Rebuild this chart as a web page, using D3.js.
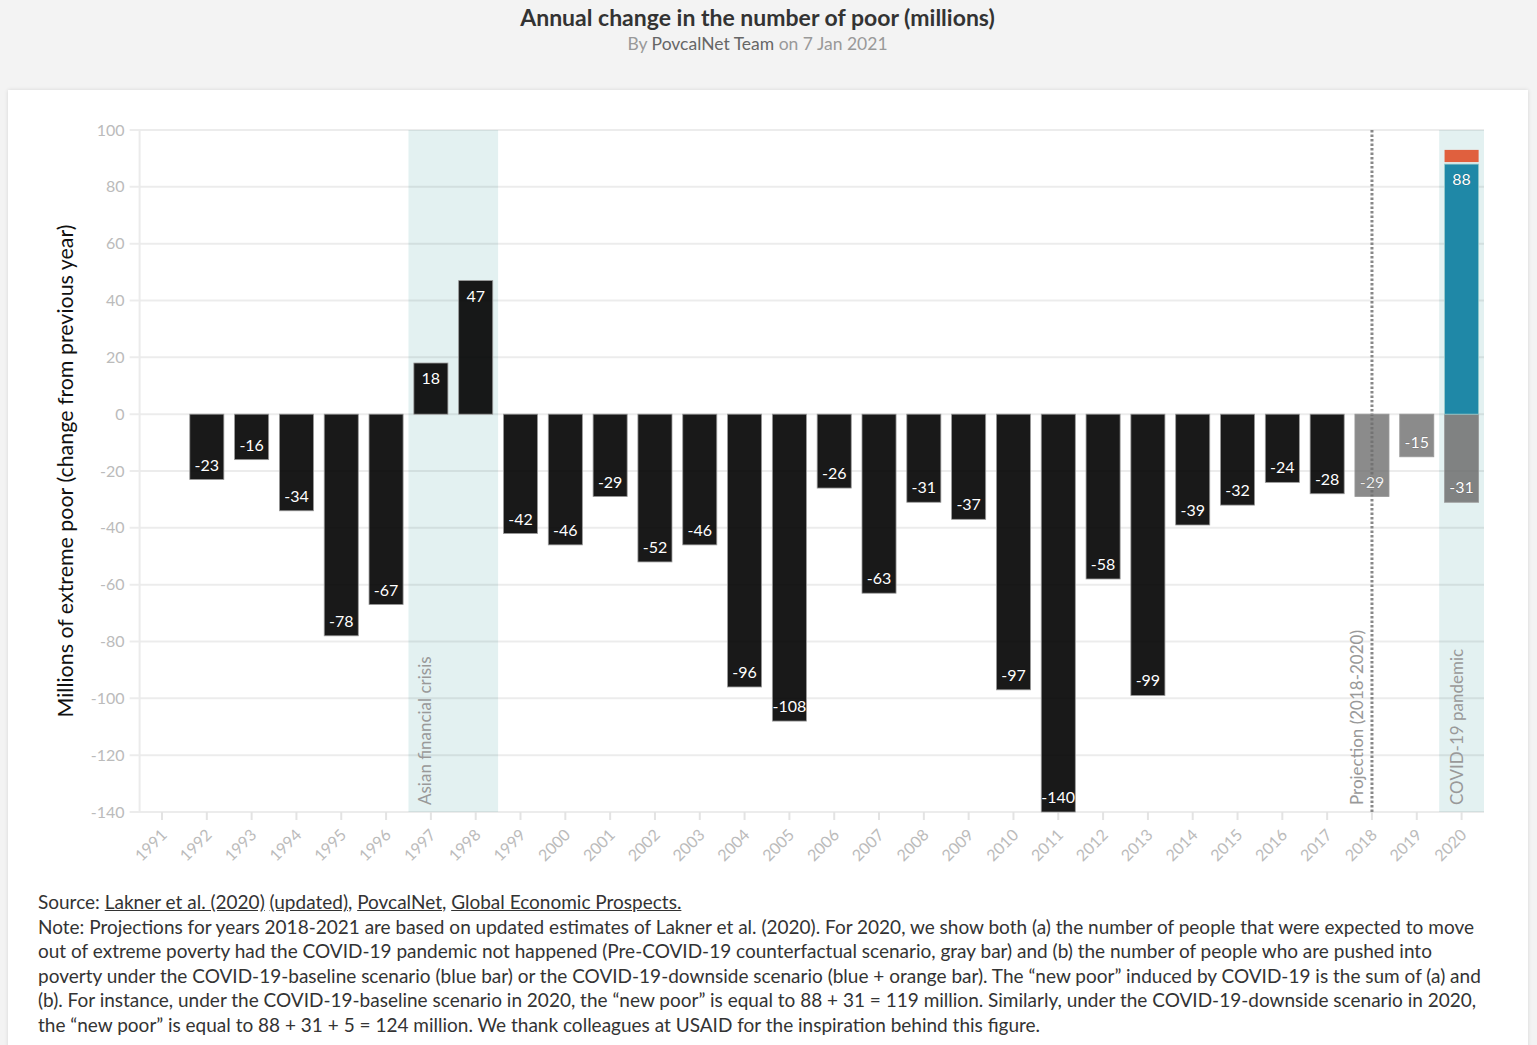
<!DOCTYPE html>
<html>
<head>
<meta charset="utf-8">
<script src="https://cdn.jsdelivr.net/npm/d3@7"></script>
<style>
  html, body { margin: 0; padding: 0; }
  body { width: 1537px; height: 1045px; background: #f3f3f3; position: relative; overflow: hidden; font-family: Lato, "Open Sans", sans-serif; }
  #card { position: absolute; left: 8px; top: 90px; width: 1520px; height: 980px; background: #fff; box-shadow: 0 0 4px rgba(0,0,0,0.12); }
  #title { position: absolute; left: 0; width: 1515px; top: 3px; text-align: center; font-weight: bold; font-size: 23px; color: #333; }
  #sub { position: absolute; left: 0; width: 1515px; top: 33px; text-align: center; font-size: 17.5px; color: #999; }
  #sub b { font-weight: normal; color: #666; }
  #chart { position: absolute; left: 0; top: 0; }
  #foot { position: absolute; left: 38px; top: 890px; font-size: 19px; line-height: 24.6px; color: #333; white-space: nowrap; }
  #foot a { color: #333; text-decoration: underline; }
</style>
</head>
<body>
<div id="card"></div>
<div id="title">Annual change in the number of poor (millions)</div>
<div id="sub">By <b>PovcalNet Team</b> on 7 Jan 2021</div>
<svg id="chart" width="1537" height="880"></svg>
<div id="foot"></div>
<script>
// values
var years = d3.range(1991, 2021).map(String);
var change = [null, -23, -16, -34, -78, -67, 18, 47, -42, -46, -29, -52, -46, -96, -108,
  -26, -63, -31, -37, -97, -140, -58, -99, -39, -32, -24, -28];
var projYears = ["2018", "2019"];
var projValues = [-29, -15];
var covidYear = "2020";
var covidPre = -31, covidBase = 88, covidDown = 5;
var yTicks = [100, 80, 60, 40, 20, 0, -20, -40, -60, -80, -100, -120, -140];

var footLines = [
  'Source: <a>Lakner et al. (2020)</a> <a>(updated)</a>, <a>PovcalNet</a>, <a>Global Economic Prospects.</a>',
  'Note: Projections for years 2018-2021 are based on updated estimates of Lakner et al. (2020). For 2020, we show both (a) the number of people that were expected to move',
  'out of extreme poverty had the COVID-19 pandemic not happened (Pre-COVID-19 counterfactual scenario, gray bar) and (b) the number of people who are pushed into',
  'poverty under the COVID-19-baseline scenario (blue bar) or the COVID-19-downside scenario (blue + orange bar). The \u201cnew poor\u201d induced by COVID-19 is the sum of (a) and',
  '(b). For instance, under the COVID-19-baseline scenario in 2020, the \u201cnew poor\u201d is equal to 88 + 31 = 119 million. Similarly, under the COVID-19-downside scenario in 2020,',
  'the \u201cnew poor\u201d is equal to 88 + 31 + 5 = 124 million. We thank colleagues at USAID for the inspiration behind this figure.'
];

var m = { left: 139.6, right: 1484, top: 130, bottom: 812 };
var svg = d3.select("#chart");

var x = d3.scaleBand().domain(years).range([m.left, m.right]).paddingInner(0.24).paddingOuter(0.12);
var y = d3.scaleLinear().domain([-140, 100]).range([m.bottom, m.top]);
var step = x.step();
var cx = function (d) { return x(d) + x.bandwidth() / 2; };

// shaded periods
var bands = [["1997", "1998"], ["2020", "2020"]];
svg.selectAll("rect.band").data(bands).enter().append("rect")
  .attr("class", "band")
  .attr("x", function (d) { return cx(d[0]) - step / 2; })
  .attr("width", function (d) { return cx(d[1]) - cx(d[0]) + step; })
  .attr("y", m.top).attr("height", m.bottom - m.top)
  .attr("fill", "#e3f1f1");

// grid
svg.append("g").selectAll("line").data(yTicks).enter().append("line")
  .attr("x1", m.left - 10).attr("x2", m.right)
  .attr("y1", function (d) { return y(d); }).attr("y2", function (d) { return y(d); })
  .attr("stroke", "rgba(0,0,0,0.075)").attr("stroke-width", 2);
svg.append("line").attr("x1", m.left).attr("x2", m.left).attr("y1", m.top).attr("y2", m.bottom)
  .attr("stroke", "#ebebeb").attr("stroke-width", 2);

// y axis labels (plain hyphen like the original)
var yAxis = svg.append("g").attr("transform", "translate(" + (m.left - 10) + ",0)")
  .call(d3.axisLeft(y).tickValues(yTicks).tickFormat(String).tickSize(0).tickPadding(5));
yAxis.select(".domain").remove();
yAxis.selectAll("text").attr("fill", "#bbb").style("font-size", "16px").style("font-family", "Lato, sans-serif");

// x axis
var xAxis = svg.append("g").attr("transform", "translate(0," + m.bottom + ")")
  .call(d3.axisBottom(x).tickSize(8).tickSizeOuter(0));
xAxis.select(".domain").remove();
xAxis.selectAll(".tick line").attr("stroke", "#e3e3e3").attr("stroke-width", 2);
xAxis.selectAll("text")
  .attr("fill", "#bbb").style("font-size", "16px").style("font-family", "Lato, sans-serif")
  .attr("text-anchor", "end").attr("dy", null).attr("y", 0)
  .attr("transform", "translate(6,24) rotate(-45)");

// projection line
svg.append("line")
  .attr("x1", cx("2018")).attr("x2", cx("2018")).attr("y1", m.top).attr("y2", m.bottom)
  .attr("stroke", "#888").attr("stroke-width", 3).attr("stroke-dasharray", "2.5,2");

// bars
var hist = years.map(function (d, i) { return { year: d, v: change[i] }; })
  .filter(function (d) { return d.v != null; });
var proj = projYears.map(function (d, i) { return { year: d, v: projValues[i] }; });

function bar(sel, fill) {
  sel.attr("x", function (d) { return x(d.year); })
    .attr("width", x.bandwidth())
    .attr("y", function (d) { return y(Math.max(0, d.v)); })
    .attr("height", function (d) { return Math.abs(y(d.v) - y(0)); })
    .attr("fill", fill)
    .attr("stroke", "#999").attr("stroke-width", 0.8);
}
svg.append("g").selectAll("rect").data(hist).enter().append("rect").call(bar, "rgba(0,0,0,0.9)");
svg.append("g").selectAll("rect").data(proj).enter().append("rect").call(bar, "rgba(110,110,110,0.8)");
svg.append("g").selectAll("rect").data([{ year: covidYear, v: covidPre }]).enter().append("rect").call(bar, "rgba(110,110,110,0.85)");
svg.append("rect")
  .attr("x", x(covidYear)).attr("width", x.bandwidth())
  .attr("y", y(covidBase)).attr("height", y(0) - y(covidBase))
  .attr("fill", "#1f88a7").attr("stroke", "#9cc").attr("stroke-width", 0.8);
svg.append("rect")
  .attr("x", x(covidYear)).attr("width", x.bandwidth())
  .attr("y", y(covidBase + covidDown)).attr("height", y(covidBase) - y(covidBase + covidDown) - 2)
  .attr("fill", "#e0603e");

// value labels
var labels = hist.concat(proj, [{ year: covidYear, v: covidPre }, { year: covidYear, v: covidBase }]);
svg.append("g").selectAll("text").data(labels).enter().append("text")
  .attr("x", function (d) { return cx(d.year); })
  .attr("y", function (d) { return d.v < 0 ? y(d.v) - 9 : y(d.v) + 21; })
  .attr("text-anchor", "middle")
  .attr("fill", function (d) { return d.year === "2018" ? "#eee" : "#fff"; })
  .attr("stroke", "rgba(0,0,0,0.35)").attr("stroke-width", 0.6).attr("paint-order", "stroke")
  .style("font-size", "16px").style("font-family", "Lato, sans-serif")
  .text(function (d) { return d.v; });

// annotations
var notes = [["1997", "Asian financial crisis", -6], ["2018", "Projection (2018-2020)", -15], ["2020", "COVID-19 pandemic", -5]];
svg.append("g").selectAll("text").data(notes).enter().append("text")
  .attr("transform", function (d) { return "translate(" + (cx(d[0]) + d[2]) + "," + (m.bottom - 7) + ") rotate(-90)"; })
  .attr("dy", "0.35em")
  .attr("fill", "#999").style("font-size", "17px").style("font-family", "Lato, sans-serif")
  .text(function (d) { return d[1]; });

// y title
svg.append("text")
  .attr("transform", "translate(65," + ((m.top + m.bottom) / 2) + ") rotate(-90)")
  .attr("text-anchor", "middle").attr("dy", "0.35em")
  .attr("fill", "#111").style("font-size", "21.4px").style("font-family", "Lato, sans-serif")
  .text("Millions of extreme poor (change from previous year)");

// footer
d3.select("#foot").selectAll("div").data(footLines).enter().append("div").html(function (d) { return d; });
</script>
</body>
</html>
